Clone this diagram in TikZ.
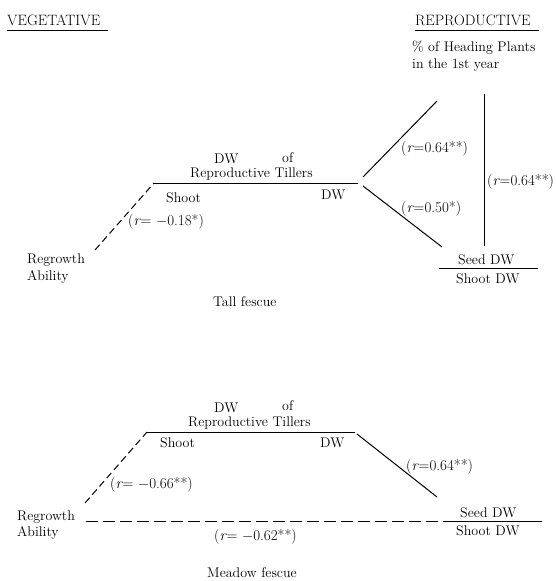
\documentclass[tikz,border=0pt]{standalone}
\usepackage{fontspec}
\setmainfont{Latin Modern Roman}
\begin{document}
\begin{tikzpicture}[x=1pt,y=-1pt,
  txt/.style={inner sep=0pt, anchor=base west, font=\fontsize{14}{16}\selectfont},
  head/.style={inner sep=0pt, anchor=base west, font=\fontsize{15}{17}\selectfont},
  rlbl/.style={inner sep=0pt, anchor=base west, font=\fontsize{15}{17}\selectfont},
  ln/.style={line width=1pt},
  dsh/.style={line width=1pt, dash pattern=on 7pt off 4pt},
  ldsh/.style={line width=1pt, dash pattern=on 12pt off 5pt}]
\useasboundingbox (0,0) rectangle (556,581);

% headings
\node[head] (veg) at (7,25) {VEGETATIVE};
\node[head] (rep) at (415,25) {REPRODUCTIVE};
\coordinate (vegA) at (7,30); \coordinate (vegB) at (108,30);
\coordinate (repA) at (415,30); \coordinate (repB) at (539,30);
\draw[line width=0.8pt] (vegA) -- (vegB);
\draw[line width=0.8pt] (repA) -- (repB);

% ---------- Tall fescue ----------
\node[txt] (t-dw1) at (214,163) {DW};
\node[txt] (t-of) at (282,162) {of};
\node[txt] (t-rt) at (190,177) {Reproductive Tillers};
\coordinate (t-L) at (154,183); \coordinate (t-R) at (358,183);
\draw[ln] (t-L) -- (t-R);
\node[txt] (t-shoot) at (166,202) {Shoot};
\node[txt] (t-dw2) at (321,199) {DW};
\node[txt] (t-reg) at (27,263) {Regrowth};
\node[txt] (t-abi) at (27,280) {Ability};
\coordinate (t-regE) at (95,250);
\draw[dsh] (t-regE) -- (t-L);
\node[rlbl] (t-r1) at (128,225) {(\textit{r}= $-$0.18*)};
\node[txt] (t-head1) at (412,51) {\% of Heading Plants};
\node[txt] (t-head2) at (412,68) {in the 1st year};
\coordinate (t-fork1) at (363,177); \coordinate (t-fork2) at (363,186);
\coordinate (t-headS) at (437,101);
\coordinate (t-seedN) at (442,247);
\draw[ln] (t-fork1) -- (t-headS);
\draw[ln] (t-fork2) -- (t-seedN);
\node[rlbl] (t-r2) at (401,152) {(\textit{r}=0.64**)};
\node[rlbl] (t-r3) at (401,212) {(\textit{r}=0.50*)};
\coordinate (t-vT) at (484,94); \coordinate (t-vB) at (484,246);
\draw[ln] (t-vT) -- (t-vB);
\node[rlbl] (t-r4) at (487,185) {(\textit{r}=0.64**)};
\node[txt] (t-seed) at (458,264) {Seed DW};
\coordinate (t-fL) at (439,268); \coordinate (t-fR) at (538,268);
\draw[ln] (t-fL) -- (t-fR);
\node[txt] (t-shootdw) at (456,283) {Shoot DW};
\node[txt] (t-cap) at (213,306) {Tall fescue};

% ---------- Meadow fescue ----------
\node[txt] (m-dw1) at (214,412) {DW};
\node[txt] (m-of) at (282,410) {of};
\node[txt] (m-rt) at (188,426) {Reproductive Tillers};
\coordinate (m-L) at (147,432); \coordinate (m-R) at (355,432);
\draw[ln] (m-L) -- (m-R);
\node[txt] (m-shoot) at (160,447) {Shoot};
\node[txt] (m-dw2) at (320,447) {DW};
\coordinate (m-regE) at (85,503);
\draw[dsh] (m-regE) -- (m-L);
\node[rlbl] (m-r1) at (110,488) {(\textit{r}= $-$0.66**)};
\coordinate (m-Rd) at (357,434); \coordinate (m-seedN) at (437,497);
\draw[ln] (m-Rd) -- (m-seedN);
\node[rlbl] (m-r2) at (406,470) {(\textit{r}=0.64**)};
\node[txt] (m-reg) at (17,520) {Regrowth};
\node[txt] (m-abi) at (17,536) {Ability};
\coordinate (m-regD) at (86,521); \coordinate (m-fL) at (447,521); \coordinate (m-fR) at (542,521);
\draw[ldsh] (m-regD) -- (m-fL);
\draw[ln] (m-fL) -- (m-fR);
\node[txt] (m-seed) at (460,517) {Seed DW};
\node[txt] (m-shootdw) at (456,535) {Shoot DW};
\node[rlbl] (m-r3) at (214,540) {(\textit{r}= $-$0.62**)};
\node[txt] (m-cap) at (207,577) {Meadow fescue};
\end{tikzpicture}
\end{document}
